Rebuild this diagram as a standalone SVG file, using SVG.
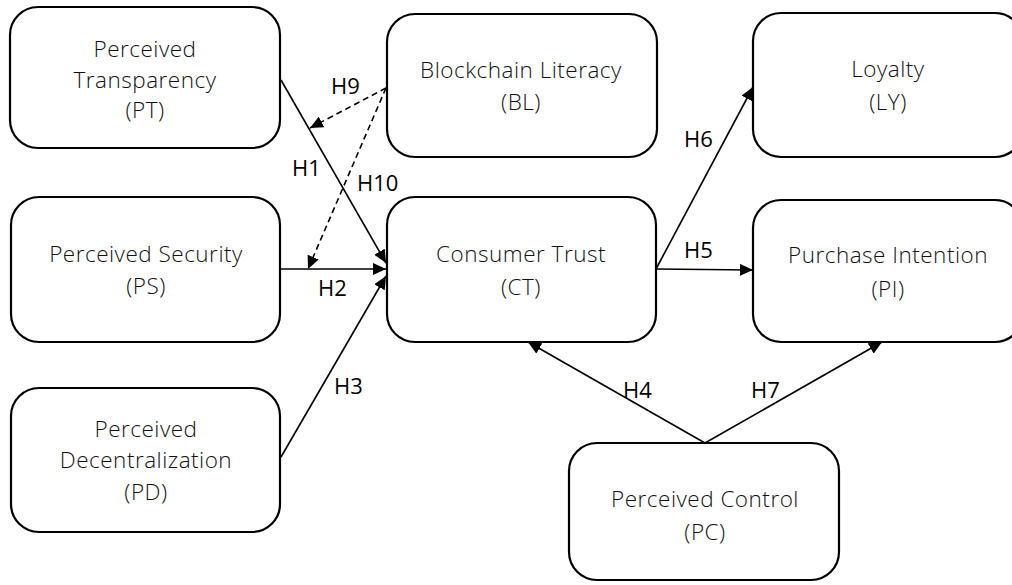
<svg xmlns="http://www.w3.org/2000/svg" width="1012" height="585" viewBox="0 0 1012 585">
  <style>
    .box { fill: #ffffff; stroke: #000000; stroke-width: 2.2; }
    .lbl { font-family: "Open Sans", "Liberation Sans", sans-serif; font-weight: 300; font-size: 22.5px; letter-spacing: 0.5px; fill: #111111; text-anchor: middle; }
    .hyp { font-family: "Open Sans", "Liberation Sans", sans-serif; font-weight: 400; font-size: 22px; fill: #000000; }
    .edge { stroke: #000000; stroke-width: 1.6; fill: none; marker-end: url(#arrow); }
    .dash { stroke-dasharray: 6 4; }
  </style>
  <defs>
    <marker id="arrow" markerUnits="userSpaceOnUse" markerWidth="14" markerHeight="12" refX="13" refY="6" orient="auto">
      <path d="M0,0 L13,6 L0,12 z" fill="#000000"/>
    </marker>
  </defs>
  <rect width="1012" height="585" fill="#ffffff"/>

  <!-- connectors -->
  <g id="connectors">
    <line class="edge" x1="281" y1="80" x2="386" y2="263"/>
    <line class="edge" x1="281" y1="269" x2="386" y2="269"/>
    <line class="edge" x1="281" y1="457" x2="386" y2="276"/>
    <line class="edge" x1="656" y1="269" x2="753" y2="87"/>
    <line class="edge" x1="656" y1="269" x2="753" y2="270"/>
    <line class="edge" x1="705" y1="443" x2="528" y2="342"/>
    <line class="edge" x1="705" y1="443" x2="882" y2="342"/>
    <line class="edge dash" x1="386" y1="88" x2="310" y2="128"/>
    <line class="edge dash" x1="386" y1="88" x2="308" y2="269"/>
    <text class="hyp" x="292" y="176">H1</text>
    <text class="hyp" x="318" y="296">H2</text>
    <text class="hyp" x="334" y="394">H3</text>
    <text class="hyp" x="623" y="398">H4</text>
    <text class="hyp" x="684" y="258">H5</text>
    <text class="hyp" x="684" y="147">H6</text>
    <text class="hyp" x="751" y="398">H7</text>
    <text class="hyp" x="331" y="94">H9</text>
    <text class="hyp" x="357" y="191">H10</text>
  </g>

  <g id="node-pt">
    <rect class="box" x="10" y="7" width="270" height="141" rx="28"/>
    <text class="lbl" x="145" y="57">Perceived</text>
    <text class="lbl" x="145" y="88">Transparency</text>
    <text class="lbl" x="145" y="118">(PT)</text>
  </g>
  <g id="node-ps">
    <rect class="box" x="11" y="197" width="269" height="145" rx="28"/>
    <text class="lbl" x="146" y="262">Perceived Security</text>
    <text class="lbl" x="146" y="294">(PS)</text>
  </g>
  <g id="node-pd">
    <rect class="box" x="11" y="388" width="269" height="144" rx="28"/>
    <text class="lbl" x="146" y="437">Perceived</text>
    <text class="lbl" x="146" y="468">Decentralization</text>
    <text class="lbl" x="146" y="500">(PD)</text>
  </g>
  <g id="node-bl">
    <rect class="box" x="387" y="14" width="270" height="143" rx="28"/>
    <text class="lbl" x="521" y="78">Blockchain Literacy</text>
    <text class="lbl" x="521" y="110">(BL)</text>
  </g>
  <g id="node-ct">
    <rect class="box" x="387" y="197" width="269" height="145" rx="28"/>
    <text class="lbl" x="521" y="262">Consumer Trust</text>
    <text class="lbl" x="521" y="295">(CT)</text>
  </g>
  <g id="node-ly">
    <rect class="box" x="753" y="13" width="270" height="144" rx="28"/>
    <text class="lbl" x="888" y="77">Loyalty</text>
    <text class="lbl" x="888" y="110">(LY)</text>
  </g>
  <g id="node-pi">
    <rect class="box" x="753" y="200" width="270" height="142" rx="28"/>
    <text class="lbl" x="888" y="263">Purchase Intention</text>
    <text class="lbl" x="888" y="297">(PI)</text>
  </g>
  <g id="node-pc">
    <rect class="box" x="569" y="443" width="270" height="137" rx="28"/>
    <text class="lbl" x="705" y="507">Perceived Control</text>
    <text class="lbl" x="705" y="540">(PC)</text>
  </g>
</svg>
